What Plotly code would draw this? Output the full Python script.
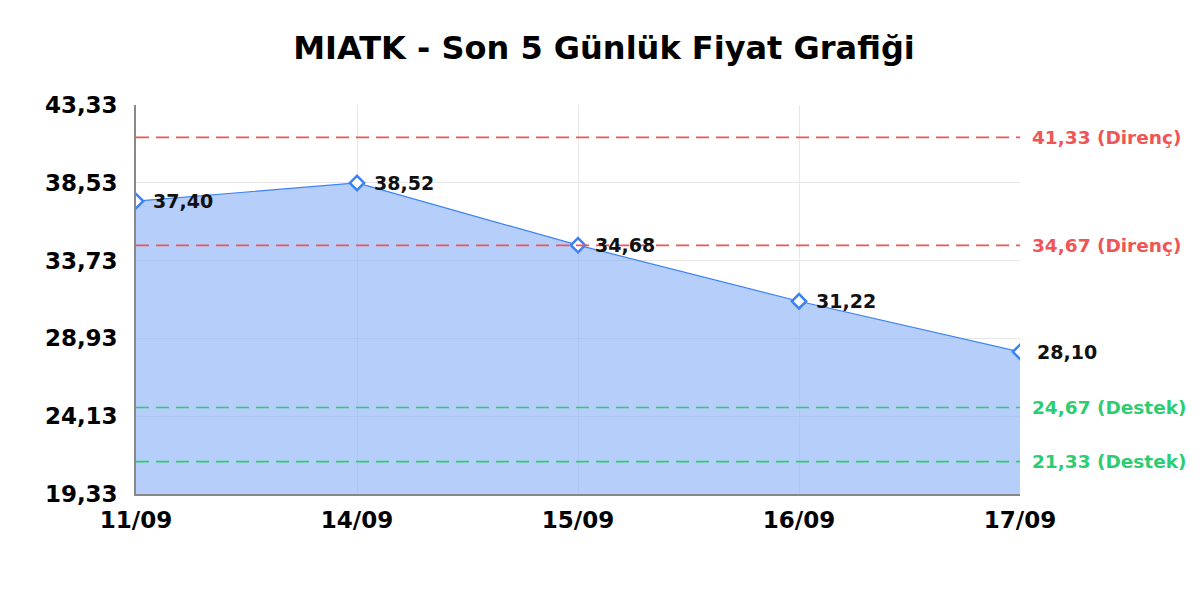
import plotly.graph_objects as go

# price data
dates = ["11/09", "14/09", "15/09", "16/09", "17/09"]
prices = [37.40, 38.52, 34.68, 31.22, 28.10]

# support / resistance levels
resistance = [41.33, 34.67]
support = [24.67, 21.33]

y_ticks = [19.33, 24.13, 28.93, 33.73, 38.53, 43.33]

FONT = "DejaVu Sans"
RED = "#ef5555"
GREEN = "#2ecc71"
BLUE = "#3b82f6"

fig = go.Figure()

fig.add_trace(go.Scatter(
    x=dates,
    y=prices,
    mode="lines+markers",
    fill="tozeroy",
    fillcolor="rgba(147,183,247,0.68)",
    line=dict(color=BLUE, width=1.2),
    marker=dict(symbol="diamond", size=11, color="white", line=dict(color=BLUE, width=2.5)),
    showlegend=False,
    hoverinfo="skip",
))

# value labels next to each point
for d, p in zip(dates, prices):
    fig.add_annotation(
        x=d, y=p, text=f"{p:.2f}".replace(".", ","),
        xanchor="left", yanchor="middle", xshift=15, showarrow=False,
        font=dict(family=FONT, size=19, color="#111111", weight="bold"),
    )

def level_line(val, color, label):
    fig.add_shape(
        type="line", xref="paper", x0=0, x1=1, yref="y", y0=val, y1=val,
        line=dict(color=color, width=1.6, dash="13px,7px"),
    )
    fig.add_annotation(
        xref="paper", x=1, y=val, text=f"{val:.2f}".replace(".", ",") + f" ({label})",
        xanchor="left", yanchor="middle", xshift=10, showarrow=False,
        font=dict(family=FONT, size=18.5, color=color, weight="bold"),
    )

for r in resistance:
    level_line(r, RED, "Direnç")
for s in support:
    level_line(s, GREEN, "Destek")

fig.update_layout(
    width=1192, height=592,
    paper_bgcolor="white", plot_bgcolor="white",
    separators=",.",
    margin=dict(l=128, r=180, t=97, b=106),
    title=dict(
        text="MIATK - Son 5 Günlük Fiyat Grafiği",
        x=0.5, xanchor="center", y=0.932, yanchor="middle",
        font=dict(family=FONT, size=32, color="black", weight="bold"),
    ),
    xaxis=dict(
        type="category", range=[0, 4],
        showgrid=True, gridcolor="#e6e6e6", gridwidth=1,
        showline=True, linecolor="#888888", linewidth=1.5,
        ticks="", ticklabelstandoff=5,
        tickfont=dict(family=FONT, size=23, color="black", weight="bold"),
        zeroline=False,
    ),
    yaxis=dict(
        range=[y_ticks[0], y_ticks[-1]],
        tickvals=y_ticks, tickformat=".2f",
        showgrid=True, gridcolor="#e6e6e6", gridwidth=1,
        showline=True, linecolor="#888888", linewidth=1.5,
        ticks="", ticklabelstandoff=12,
        tickfont=dict(family=FONT, size=23, color="black", weight="bold"),
        zeroline=False,
    ),
)

fig.write_html("out.html")
